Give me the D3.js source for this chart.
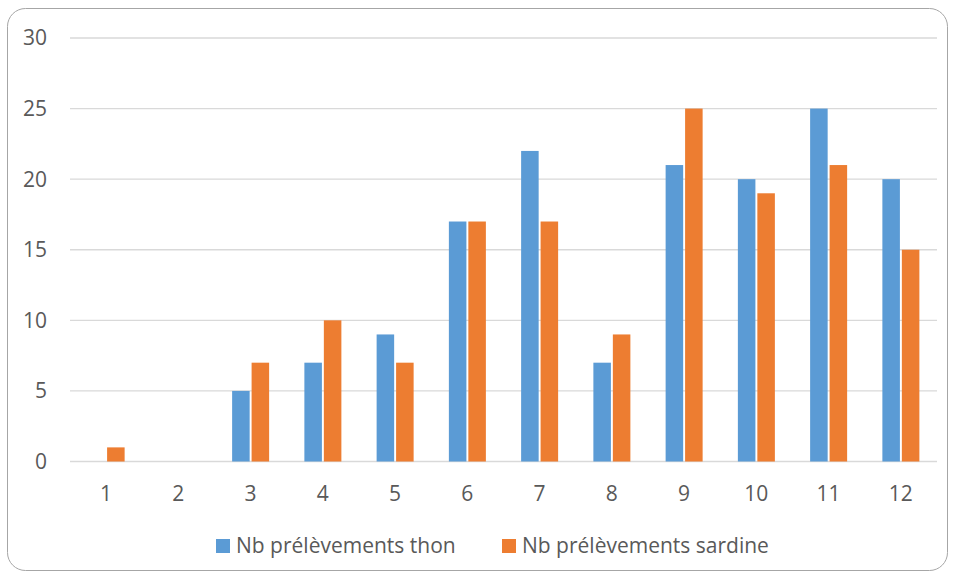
<!DOCTYPE html>
<html>
<head>
<meta charset="utf-8">
<script src="https://cdn.jsdelivr.net/npm/d3@7"></script>
<style>
  body { margin: 0; background: #fff; }
  svg { display: block; font-family: "Open Sans", sans-serif; }
</style>
</head>
<body>
<div id="chart"></div>
<script>
const months = ["1", "2", "3", "4", "5", "6", "7", "8", "9", "10", "11", "12"];
const thon = [0, 0, 5, 7, 9, 17, 22, 7, 21, 20, 25, 20];
const sardine = [1, 0, 7, 10, 7, 17, 17, 9, 25, 19, 21, 15];
const seriesNames = ["Nb prélèvements thon", "Nb prélèvements sardine"];
const yTicks = [0, 5, 10, 15, 20, 25, 30];

const width = 954, height = 578;
const margin = { top: 38, right: 17, bottom: 116, left: 70 };
const colors = ["#5b9bd5", "#ed7d31"];
const textColor = "#595959";
const fontSize = 21;

const svg = d3.select("#chart").append("svg")
  .attr("width", width)
  .attr("height", height);

// cadre arrondi
svg.append("rect")
  .attr("x", 7.5).attr("y", 8.5)
  .attr("width", 940).attr("height", 562)
  .attr("rx", 18)
  .attr("fill", "#fff")
  .attr("stroke", "#a6a6a6")
  .attr("stroke-width", 1);

const x = d3.scaleBand()
  .domain(months)
  .range([margin.left, width - margin.right])
  .padding(0);

const bw = x.bandwidth();
const xs = d3.scaleBand()
  .domain([0, 1])
  .range([bw / 2 - 18.5, bw / 2 + 18.5])
  .paddingInner(0.1);

const y = d3.scaleLinear()
  .domain([0, 30])
  .range([height - margin.bottom - 0.5, margin.top]);

// grille
svg.append("g")
  .selectAll("line")
  .data(yTicks)
  .join("line")
  .attr("x1", margin.left)
  .attr("x2", width - margin.right)
  .attr("y1", d => y(d))
  .attr("y2", d => y(d))
  .attr("stroke", "#d9d9d9")
  .attr("stroke-width", 1.3);

// axe y
svg.append("g")
  .selectAll("text")
  .data(yTicks)
  .join("text")
  .attr("x", 47)
  .attr("y", d => y(d))
  .attr("dy", "0.35em")
  .attr("text-anchor", "end")
  .attr("font-size", fontSize)
  .attr("fill", textColor)
  .text(d => d);

// axe x
svg.append("g")
  .selectAll("text")
  .data(months)
  .join("text")
  .attr("x", d => x(d) + bw / 2)
  .attr("y", 494)
  .attr("dy", "0.35em")
  .attr("text-anchor", "middle")
  .attr("font-size", fontSize)
  .attr("fill", textColor)
  .text(d => d);

// barres
const series = [thon, sardine];
series.forEach((vals, s) => {
  svg.append("g")
    .selectAll("rect")
    .data(vals.map((v, i) => ({ m: months[i], v })).filter(d => d.v > 0))
    .join("rect")
    .attr("x", d => x(d.m) + xs(s))
    .attr("y", d => y(d.v))
    .attr("width", xs.bandwidth())
    .attr("height", d => y(0) - y(d.v))
    .attr("fill", colors[s]);
});

// légende
const legend = svg.append("g");
const legX = [216, 502];
seriesNames.forEach((name, s) => {
  const g = legend.append("g").attr("transform", `translate(${legX[s]},546)`);
  g.append("rect")
    .attr("x", 0).attr("y", -7)
    .attr("width", 14).attr("height", 14)
    .attr("fill", colors[s]);
  g.append("text")
    .attr("x", 20)
    .attr("dy", "0.35em")
    .attr("font-size", fontSize)
    .attr("fill", textColor)
    .text(name);
});
</script>
</body>
</html>
